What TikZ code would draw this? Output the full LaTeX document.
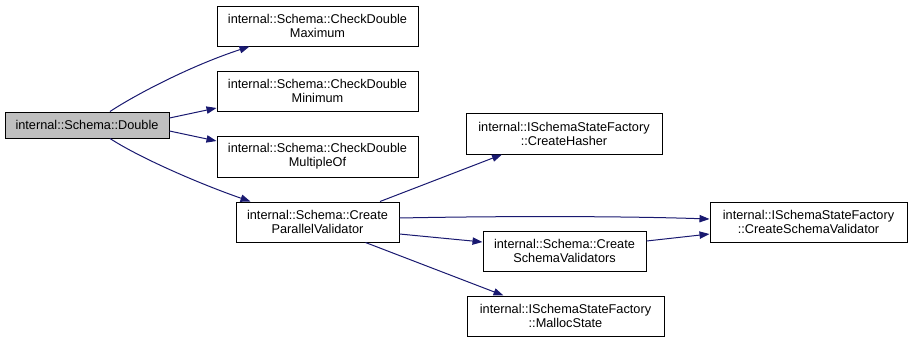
\documentclass[tikz,border=0pt]{standalone}
\usepackage{fontspec}
\setmainfont{Liberation Sans}
\usetikzlibrary{arrows.meta,calc}
\definecolor{edgeblue}{HTML}{191970}
\definecolor{curgray}{HTML}{BFBFBF}
\tikzset{
  fn/.style={draw=black, line width=0.75pt, fill=white, inner sep=0pt, align=center,
    font=\fontsize{9.55pt}{10.5pt}\selectfont},
  call/.style={draw=edgeblue, line width=0.75pt,
    -{Triangle[length=7.5pt,width=5.5pt]}},
}
\begin{document}
\begin{tikzpicture}[x=0.75pt,y=-0.75pt]
\useasboundingbox (0,0) rectangle (912,343);

\node[fn, fill=curgray, minimum width=164*0.75pt, minimum height=26*0.75pt] (dbl) at (87,125) {internal::Schema::Double};
\node[fn, minimum width=201*0.75pt, minimum height=40*0.75pt] (max) at (317.5,26) {internal::Schema::CheckDouble\\Maximum};
\node[fn, minimum width=201*0.75pt, minimum height=40*0.75pt] (min) at (317.5,91) {internal::Schema::CheckDouble\\Minimum};
\node[fn, minimum width=201*0.75pt, minimum height=41*0.75pt] (mult) at (317.5,156.5) {internal::Schema::CheckDouble\\MultipleOf};
\node[fn, minimum width=163*0.75pt, minimum height=40*0.75pt] (cpv) at (317.5,222) {internal::Schema::Create\\ParallelValidator};
\node[fn, minimum width=196*0.75pt, minimum height=41*0.75pt] (hash) at (564,133.5) {internal::ISchemaStateFactory\\::CreateHasher};
\node[fn, minimum width=163*0.75pt, minimum height=40*0.75pt] (csvs) at (564.5,251) {internal::Schema::Create\\SchemaValidators};
\node[fn, minimum width=197*0.75pt, minimum height=40*0.75pt] (malloc) at (565.5,316) {internal::ISchemaStateFactory\\::MallocState};
\node[fn, minimum width=197*0.75pt, minimum height=40*0.75pt] (csv) at (808.5,222) {internal::ISchemaStateFactory\\::CreateSchemaValidator};

\draw[call] ($(dbl.north)+(23,0)$) .. controls (135,95) and (190,66) .. ($(max.south)+(-68,0)$);
\draw[call] ($(dbl.east)+(0,-7)$) -- ($(min.west)+(0,17)$);
\draw[call] ($(dbl.east)+(0,6)$) -- ($(mult.west)+(0,-15.5)$);
\draw[call] ($(dbl.south)+(23,0)$) .. controls (140,158) and (200,184) .. ($(cpv.north)+(-67,0)$);
\draw[call] ($(cpv.north)+(62.5,0)$) -- ($(hash.south)+(-62,0)$);
\draw[call] ($(cpv.east)+(0,-4)$) .. controls (500,216) and (620,216) .. ($(csv.west)+(0,-3)$);
\draw[call] ($(cpv.east)+(0,12)$) -- ($(csvs.west)+(0,-9)$);
\draw[call] ($(cpv.south)+(48,0)$) -- ($(malloc.north)+(-62,0)$);
\draw[call] ($(csvs.east)+(0,-10)$) -- ($(csv.west)+(0,12)$);
\end{tikzpicture}
\end{document}
